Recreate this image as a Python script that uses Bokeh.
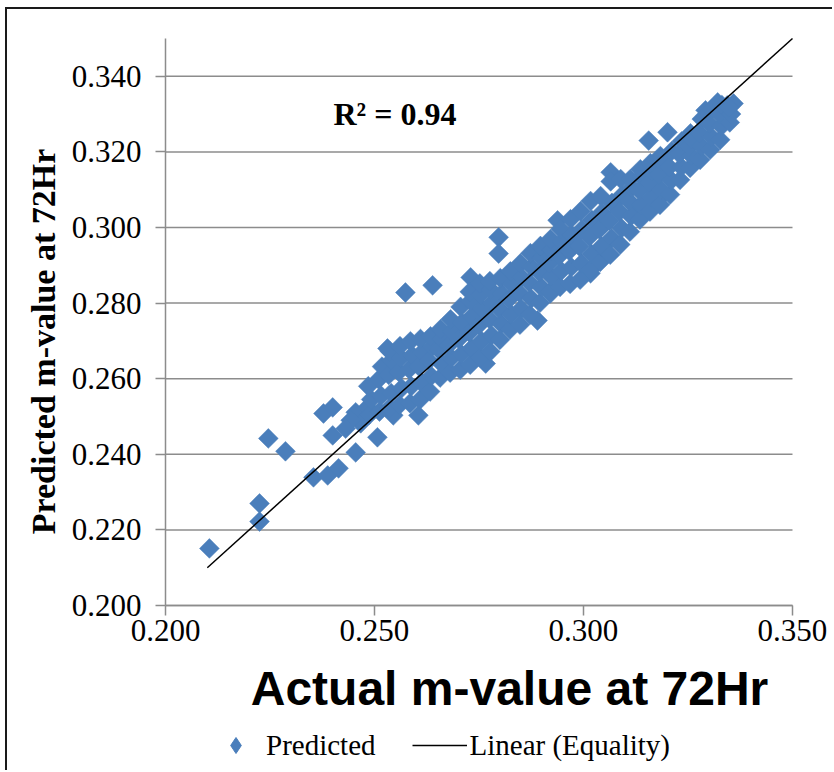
import math
from bokeh.plotting import figure
from bokeh.models import Range1d, FixedTicker, PrintfTickFormatter, Label, Legend, LegendItem
from bokeh.embed import file_html
from bokeh.resources import INLINE

# ---- data ----
actual_outliers = [
    0.2105, 0.2225, 0.2225, 0.2246, 0.2287, 0.2354, 0.2388, 0.2414, 0.2378, 0.2400,
    0.2400, 0.2455, 0.2455, 0.2467, 0.2483, 0.2443, 0.2431, 0.2507, 0.2545, 0.2531,
    0.2574, 0.2639, 0.2797, 0.2797, 0.2890, 0.2766, 0.2605, 0.2730, 0.2938, 0.3065,
    0.3156, 0.3201, 0.3256, 0.3292, 0.3321, 0.3344, 0.3359, 0.3177, 0.3191, 0.3167,
    0.3124, 0.3017, 0.2921,
]
predicted_outliers = [
    0.2151, 0.2222, 0.2270, 0.2442, 0.2408, 0.2339, 0.2344, 0.2363, 0.2508, 0.2524,
    0.2450, 0.2405, 0.2511, 0.2482, 0.2524, 0.2490, 0.2468, 0.2445, 0.2503, 0.2680,
    0.2828, 0.2847, 0.2974, 0.2931, 0.2754, 0.2640, 0.2503, 0.2868, 0.3019, 0.3146,
    0.3230, 0.3252, 0.3249, 0.3310, 0.3331, 0.3323, 0.3328, 0.3072, 0.3090, 0.3058,
    0.3037, 0.2879, 0.2826,
]
actual_band = [
    0.2488, 0.2492, 0.2485,
    0.2512, 0.2516, 0.2510, 0.2518,
    0.2536, 0.2540, 0.2534, 0.2541, 0.2537,
    0.2560, 0.2565, 0.2558, 0.2563, 0.2561,
    0.2585, 0.2588, 0.2583, 0.2590, 0.2586,
    0.2609, 0.2612, 0.2606, 0.2614, 0.2610,
    0.2633, 0.2636, 0.2630, 0.2638, 0.2634,
    0.2657, 0.2660, 0.2655, 0.2661, 0.2658,
    0.2681, 0.2684, 0.2679, 0.2685, 0.2682,
    0.2705, 0.2708, 0.2702, 0.2709, 0.2706,
    0.2729, 0.2732, 0.2727, 0.2733, 0.2730, 0.2728,
    0.2753, 0.2756, 0.2750, 0.2757, 0.2754, 0.2752,
    0.2777, 0.2780, 0.2775, 0.2781, 0.2778, 0.2776,
    0.2800, 0.2803, 0.2798, 0.2804, 0.2801,
    0.2824, 0.2827, 0.2822, 0.2828, 0.2825,
    0.2848, 0.2851, 0.2846, 0.2852, 0.2849,
    0.2872, 0.2875, 0.2870, 0.2876, 0.2873,
    0.2896, 0.2899, 0.2894, 0.2900, 0.2897,
    0.2920, 0.2923, 0.2918, 0.2924, 0.2921,
    0.2944, 0.2947, 0.2942, 0.2948, 0.2945,
    0.2968, 0.2971, 0.2966, 0.2972, 0.2969,
    0.2992, 0.2995, 0.2990, 0.2996, 0.2993,
    0.3016, 0.3019, 0.3014, 0.3020, 0.3017,
    0.3040, 0.3043, 0.3038, 0.3044, 0.3041,
    0.3064, 0.3067, 0.3062, 0.3068, 0.3065,
    0.3088, 0.3091, 0.3086, 0.3092, 0.3089,
    0.3111, 0.3114, 0.3109, 0.3115, 0.3112,
    0.3135, 0.3138, 0.3133, 0.3139, 0.3136,
    0.3159, 0.3162, 0.3157, 0.3163, 0.3160,
    0.3183, 0.3186, 0.3181, 0.3187, 0.3184,
    0.3207, 0.3210, 0.3205, 0.3211,
    0.3231, 0.3234, 0.3229, 0.3235,
    0.3255, 0.3258, 0.3253, 0.3259,
    0.3279, 0.3282, 0.3277, 0.3283,
    0.3303, 0.3306, 0.3301, 0.3307,
    0.3327, 0.3330, 0.3325, 0.3331,
    0.3350, 0.3353, 0.3348,
]
predicted_band = [
    0.2505, 0.2545, 0.2580,
    0.2513, 0.2555, 0.2598, 0.2632,
    0.2523, 0.2562, 0.2610, 0.2648, 0.2672,
    0.2531, 0.2575, 0.2618, 0.2655, 0.2686,
    0.2535, 0.2580, 0.2625, 0.2662, 0.2699,
    0.2545, 0.2590, 0.2633, 0.2670, 0.2705,
    0.2566, 0.2607, 0.2648, 0.2685, 0.2712,
    0.2603, 0.2640, 0.2675, 0.2705, 0.2731,
    0.2616, 0.2655, 0.2690, 0.2725, 0.2757,
    0.2624, 0.2665, 0.2705, 0.2748, 0.2790,
    0.2637, 0.2680, 0.2722, 0.2765, 0.2805, 0.2830,
    0.2656, 0.2700, 0.2742, 0.2785, 0.2822, 0.2852,
    0.2672, 0.2715, 0.2758, 0.2800, 0.2835, 0.2858,
    0.2703, 0.2745, 0.2785, 0.2825, 0.2866,
    0.2730, 0.2770, 0.2810, 0.2850, 0.2884,
    0.2743, 0.2785, 0.2828, 0.2868, 0.2905,
    0.2769, 0.2812, 0.2855, 0.2895, 0.2932,
    0.2801, 0.2842, 0.2882, 0.2920, 0.2951,
    0.2830, 0.2870, 0.2905, 0.2940, 0.2969,
    0.2843, 0.2885, 0.2925, 0.2962, 0.2996,
    0.2851, 0.2895, 0.2938, 0.2980, 0.3022,
    0.2862, 0.2905, 0.2950, 0.2995, 0.3043,
    0.2888, 0.2930, 0.2975, 0.3020, 0.3070,
    0.2909, 0.2950, 0.2995, 0.3040, 0.3083,
    0.2928, 0.2972, 0.3018, 0.3065, 0.3122,
    0.2955, 0.2998, 0.3042, 0.3085, 0.3128,
    0.2989, 0.3030, 0.3070, 0.3105, 0.3128,
    0.3021, 0.3060, 0.3098, 0.3135, 0.3154,
    0.3042, 0.3080, 0.3118, 0.3150, 0.3170,
    0.3060, 0.3100, 0.3140, 0.3175, 0.3189,
    0.3087, 0.3125, 0.3160, 0.3202,
    0.3126, 0.3160, 0.3195, 0.3228,
    0.3158, 0.3190, 0.3215, 0.3234,
    0.3179, 0.3215, 0.3250, 0.3287,
    0.3206, 0.3240, 0.3275, 0.3313,
    0.3232, 0.3268, 0.3300, 0.3324,
    0.3278, 0.3300, 0.3318,
]
equality_x = [0.21, 0.35]
equality_y = [0.21, 0.35]
axis_min = 0.20
axis_max = 0.35
x_ticks = [0.20, 0.25, 0.30, 0.35]
y_ticks = [0.20, 0.22, 0.24, 0.26, 0.28, 0.30, 0.32, 0.34]
series_names = ["Predicted", "Linear (Equality)"]
x_title = "Actual m-value at 72Hr"
y_title = "Predicted m-value at 72Hr"
r2_text = "R\u00b2 = 0.94"

actual = actual_outliers + actual_band
predicted = predicted_outliers + predicted_band

BLUE = "#4A7EBB"
GRAY = "#8C8C8C"
SERIF = "Liberation Serif"

# The frame covers the whole canvas; the axes sit at fixed positions inside it,
# so that titles and legend placed around the plot area are never clipped.
p = figure(width=827, height=763, title=None,
           x_range=Range1d(0.1622, 0.36005), y_range=Range1d(0.15582, 0.357672),
           output_backend="svg", toolbar_location=None,
           min_border=0, min_border_left=0, min_border_right=0,
           min_border_top=0, min_border_bottom=0)
p.outline_line_color = None
p.background_fill_color = "white"
p.border_fill_color = "white"
p.styles = {"margin-left": "5px", "margin-top": "7px",
            "border-left": "2px solid #1a1a1a", "border-top": "2px solid #1a1a1a"}

p.xgrid.grid_line_color = None
p.ygrid.grid_line_color = None

# horizontal gridlines across the plot area only
p.segment(x0=[axis_min] * len(y_ticks), x1=[axis_max] * len(y_ticks),
          y0=y_ticks, y1=y_ticks, line_color=GRAY, line_width=1.5)

p.xaxis.ticker = FixedTicker(ticks=x_ticks)
p.yaxis.ticker = FixedTicker(ticks=y_ticks)
p.xaxis.fixed_location = axis_min
p.yaxis.fixed_location = axis_min
for ax in (p.xaxis, p.yaxis):
    ax.bounds = (axis_min, axis_max)
    ax.formatter = PrintfTickFormatter(format="%.3f")
    ax.axis_line_color = GRAY
    ax.axis_line_width = 1.5
    ax.major_tick_line_color = GRAY
    ax.major_tick_line_width = 1.5
    ax.major_tick_out = 10
    ax.major_tick_in = 0
    ax.minor_tick_line_color = None
    ax.major_label_text_font = SERIF
    ax.major_label_text_font_size = "31px"
    ax.major_label_text_color = "black"
p.yaxis.major_label_standoff = 14
p.xaxis.major_label_standoff = 5

sc = p.scatter(actual, predicted, marker="square", size=14, angle=math.pi / 4,
               fill_color=BLUE, line_color=BLUE, line_width=0.5)
ln = p.line(equality_x, equality_y, line_color="black", line_width=1.5)
# legend-only glyph (a point with no position): a diamond like the reference's key
key = p.scatter([float("nan")], [float("nan")], marker="diamond", size=20,
                fill_color=BLUE, line_color=BLUE)

legend = Legend(items=[LegendItem(label=series_names[0], renderers=[key], index=0),
                       LegendItem(label=series_names[1], renderers=[ln])],
                orientation="horizontal", location=(201, 7),
                glyph_width=55, glyph_height=40, label_height=40,
                label_standoff=3, spacing=36, padding=0, margin=0,
                border_line_color=None, background_fill_alpha=0,
                label_text_font=SERIF, label_text_font_size="29px",
                label_text_color="black")
p.add_layout(legend)

p.add_layout(Label(x=36, y=431, x_units="screen", y_units="screen",
                   text=y_title, angle=math.pi / 2,
                   text_align="center", text_baseline="middle",
                   text_font=SERIF, text_font_style="bold",
                   text_font_size="34px", text_color="black"))
p.add_layout(Label(x=502, y=84, x_units="screen", y_units="screen",
                   text=x_title, text_align="center", text_baseline="middle",
                   text_font="Liberation Sans", text_font_style="bold",
                   text_font_size="48px", text_color="black"))
p.add_layout(Label(x=326, y=659, x_units="screen", y_units="screen",
                   text=r2_text, text_align="left", text_baseline="middle",
                   text_font=SERIF, text_font_style="bold",
                   text_font_size="32px", text_color="black"))

open("out.html", "w").write(file_html(p, INLINE))
